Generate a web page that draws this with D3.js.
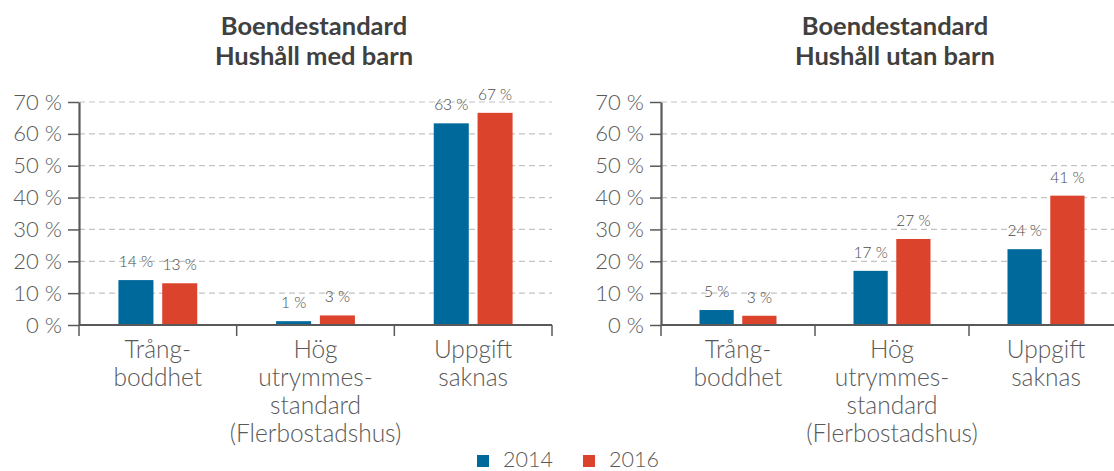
<!DOCTYPE html>
<html>
<head>
<meta charset="utf-8">
<script src="https://cdn.jsdelivr.net/npm/d3@7.9.0/dist/d3.min.js"></script>
<style>
  body { margin: 0; background: #fff; }
  svg text { font-family: "Lato", "Open Sans", sans-serif; }
</style>
</head>
<body>
<svg id="chart" width="1114" height="471"></svg>
<script>
// data
const categories = ["Trång-\nboddhet", "Hög\nutrymmes-\nstandard\n(Flerbostadshus)", "Uppgift\nsaknas"];
const years = ["2014", "2016"];
const yTicks = [0, 10, 20, 30, 40, 50, 60, 70];

const medBarn2014 = [14.1, 1.2, 63.3];
const medBarn2016 = [13.1, 3.0, 66.6];
const utanBarn2014 = [4.7, 17.0, 23.8];
const utanBarn2016 = [2.9, 27.0, 40.6];

const colors = { "2014": "#00699b", "2016": "#dc432c" };
const textColor = "#595959";
const titleColor = "#404040";

const svg = d3.select("#chart");

function drawPanel(opts) {
  const g = svg.append("g");

  const x = d3.scaleBand()
    .domain(categories)
    .range([opts.left, opts.right])
    .padding(0);

  const xInner = d3.scaleBand()
    .domain(years)
    .range([0, x.bandwidth() * 0.5])
    .paddingInner(0.2);

  const y = d3.scaleLinear()
    .domain([0, 70])
    .range([325, 102]);

  // gridlines
  g.append("g")
    .selectAll("line")
    .data(yTicks.filter((d) => d > 0))
    .join("line")
    .attr("x1", opts.left)
    .attr("x2", opts.gridEnd)
    .attr("y1", (d) => y(d))
    .attr("y2", (d) => y(d))
    .attr("stroke", "#c4c4c4")
    .attr("stroke-width", 1.2)
    .attr("stroke-dasharray", "6,4");

  // bars
  const rows = categories.map((c, i) => ({
    cat: c,
    vals: [
      { year: "2014", v: opts.s2014[i] },
      { year: "2016", v: opts.s2016[i] },
    ],
  }));

  const groups = g.append("g")
    .selectAll("g")
    .data(rows)
    .join("g")
    .attr("transform", (d) => `translate(${x(d.cat) + x.bandwidth() * 0.25},0)`);

  groups.selectAll("rect")
    .data((d) => d.vals)
    .join("rect")
    .attr("x", (d) => xInner(d.year))
    .attr("y", (d) => y(d.v))
    .attr("width", xInner.bandwidth())
    .attr("height", (d) => y(0) - y(d.v))
    .attr("fill", (d) => colors[d.year]);

  groups.selectAll("text")
    .data((d) => d.vals)
    .join("text")
    .attr("x", (d) => xInner(d.year) + xInner.bandwidth() / 2)
    .attr("y", (d) => y(d.v) - 13)
    .attr("text-anchor", "middle")
    .attr("font-size", 15.5)
    .attr("font-weight", 300)
    .attr("fill", "#4a4a4a")
    .text((d) => Math.round(d.v) + " %");

  // y axis
  const yAxis = g.append("g")
    .attr("transform", `translate(${opts.left},0)`)
    .call(d3.axisLeft(y)
      .tickValues(yTicks)
      .tickSize(11)
      .tickSizeOuter(0)
      .tickPadding(6)
      .tickFormat((d) => d + " %"));
  yAxis.select(".domain").attr("stroke", textColor).attr("stroke-width", 2.2);
  yAxis.selectAll(".tick line").attr("stroke", textColor).attr("stroke-width", 1.5);
  yAxis.selectAll(".tick text")
    .attr("font-size", 22)
    .attr("font-weight", 300)
    .attr("fill", textColor)
    .attr("font-family", "Lato, sans-serif");

  // x axis with ticks at the category boundaries
  const xAxis = g.append("g");
  xAxis.append("line")
    .attr("x1", opts.left)
    .attr("x2", opts.right)
    .attr("y1", y(0))
    .attr("y2", y(0))
    .attr("stroke", textColor)
    .attr("stroke-width", 2.2);
  const bounds = categories.map((c) => x(c)).concat([x.range()[1]]);
  xAxis.selectAll("line.tick")
    .data(bounds)
    .join("line")
    .attr("class", "tick")
    .attr("x1", (d) => d)
    .attr("x2", (d) => d)
    .attr("y1", y(0))
    .attr("y2", y(0) + 11)
    .attr("stroke", textColor)
    .attr("stroke-width", 1.5);

  const catText = xAxis.selectAll("text")
    .data(categories)
    .join("text")
    .attr("text-anchor", "middle")
    .attr("font-size", 24.5)
    .attr("font-weight", 300)
    .attr("fill", textColor);
  catText.selectAll("tspan")
    .data((d) => d.split("\n").map((t) => ({ t, c: d })))
    .join("tspan")
    .attr("x", (d) => x(d.c) + x.bandwidth() / 2)
    .attr("y", (d, i) => 358 + i * 28)
    .text((d) => d.t);

  // title
  const title = g.append("text")
    .attr("text-anchor", "middle")
    .attr("font-size", 25.5)
    .attr("font-weight", 700)
    .attr("fill", titleColor);
  opts.title.forEach((t, i) => {
    title.append("tspan")
      .attr("x", opts.titleX)
      .attr("y", 35 + i * 30)
      .text(t);
  });
}

drawPanel({
  left: 79, right: 552, gridEnd: 552, titleX: 314,
  s2014: medBarn2014, s2016: medBarn2016,
  title: ["Boendestandard", "Hushåll med barn"],
});

drawPanel({
  left: 661, right: 1123, gridEnd: 1114, titleX: 895,
  s2014: utanBarn2014, s2016: utanBarn2016,
  title: ["Boendestandard", "Hushåll utan barn"],
});

// legend
const legend = svg.append("g").attr("transform", "translate(477,455)");
const items = legend.selectAll("g")
  .data(years)
  .join("g")
  .attr("transform", (d, i) => `translate(${i * 106},0)`);
items.append("rect")
  .attr("width", 12)
  .attr("height", 12)
  .attr("fill", (d) => colors[d]);
items.append("text")
  .attr("x", 26)
  .attr("y", 12)
  .attr("font-size", 21.5)
  .attr("font-weight", 300)
  .attr("fill", textColor)
  .text((d) => d);
</script>
</body>
</html>
